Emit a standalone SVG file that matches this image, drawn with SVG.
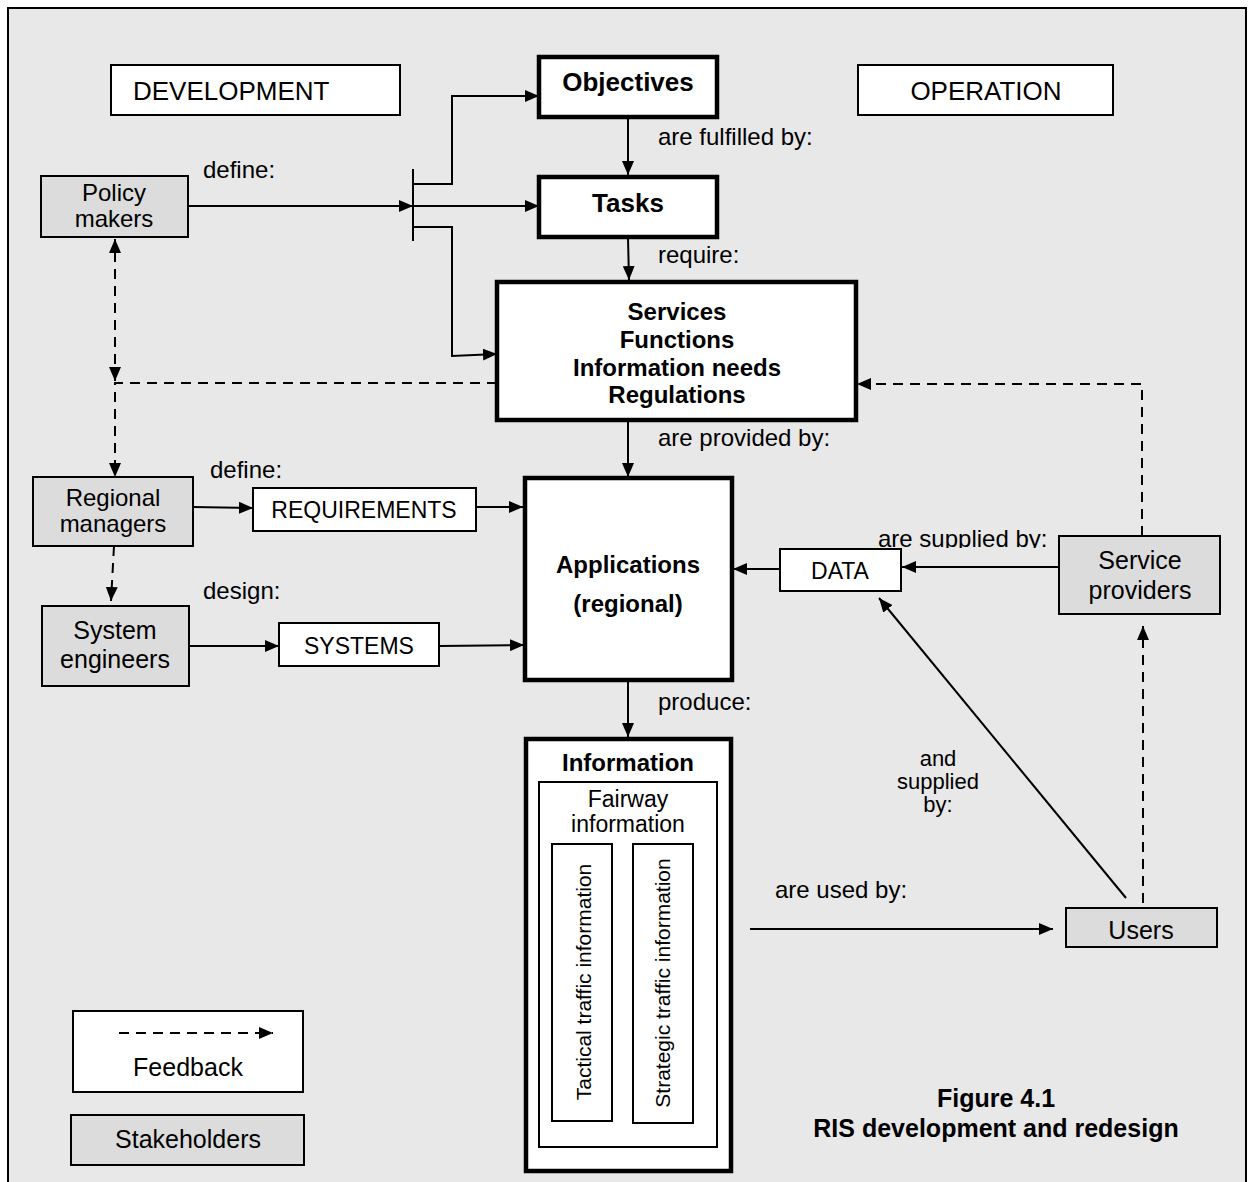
<svg xmlns="http://www.w3.org/2000/svg" width="1248" height="1182" viewBox="0 0 1248 1182">
<style>
text{font-family:"Liberation Sans",Arial,sans-serif;fill:#000}
.bg{fill:#e8e8e8;stroke:#000;stroke-width:2}
.st{fill:#dcdcdc;stroke:#000;stroke-width:2}
.wb{fill:#fff;stroke:#000;stroke-width:2}
.tk{fill:#fff;stroke:#000;stroke-width:4.5}
.ln{fill:none;stroke:#000;stroke-width:2}
.ds{fill:none;stroke:#000;stroke-width:2;stroke-dasharray:10,7}
.t25{font-size:25px}
.t23{font-size:23px}
.lb{font-size:24px}
.b26{font-size:26px;font-weight:bold}
.b24{font-size:24px;font-weight:bold}
.mid{text-anchor:middle}
</style>
<defs>
<marker id="ah" viewBox="0 0 14 12" refX="14" refY="6" markerWidth="14" markerHeight="12" orient="auto-start-reverse" markerUnits="userSpaceOnUse"><path d="M0,0 L14,6 L0,12 z" fill="#000"/></marker>
<clipPath id="clipSup"><rect x="860" y="520" width="200" height="28"/></clipPath>
</defs>
<rect x="8" y="8" width="1238" height="1190" class="bg"/>

<g id="connectors">
<path class="ln" d="M188,206 H413" marker-end="url(#ah)"/>
<path class="ln" d="M413,169 V241"/>
<path class="ln" d="M413,184 H452 V96 H539" marker-end="url(#ah)"/>
<path class="ln" d="M413,206 H539" marker-end="url(#ah)"/>
<path class="ln" d="M413,227 H452 V356 L497,354" marker-end="url(#ah)"/>
<path class="ln" d="M628,117 V175" marker-end="url(#ah)"/>
<path class="ln" d="M628,238 L629,280" marker-end="url(#ah)"/>
<path class="ln" d="M628,421 V477" marker-end="url(#ah)"/>
<path class="ln" d="M628,680 V737" marker-end="url(#ah)"/>
<path class="ds" d="M115,381 V239" marker-start="url(#ah)" marker-end="url(#ah)"/>
<path class="ds" d="M497,383 H115 V477" marker-end="url(#ah)"/>
<path class="ds" d="M114,546 L111,601" marker-end="url(#ah)"/>
<path class="ln" d="M193,507 L253,508" marker-end="url(#ah)"/>
<path class="ln" d="M476,507 H523" marker-end="url(#ah)"/>
<path class="ln" d="M189,646 H279" marker-end="url(#ah)"/>
<path class="ln" d="M439,646 L524,645" marker-end="url(#ah)"/>
<path class="ln" d="M780,569 H733" marker-end="url(#ah)"/>
<path class="ln" d="M1059,567 H902" marker-end="url(#ah)"/>
<path class="ds" d="M1142,536 V384 H857" marker-end="url(#ah)"/>
<path class="ds" d="M1143,903 V626" marker-end="url(#ah)"/>
<path class="ln" d="M1126,898 L879,598" marker-end="url(#ah)"/>
<path class="ln" d="M750,929 H1053" marker-end="url(#ah)"/>
</g>

<g id="labels">
<text class="lb" x="203" y="178">define:</text>
<text class="lb" x="658" y="145">are fulfilled by:</text>
<text class="lb" x="658" y="263">require:</text>
<text class="lb" x="658" y="446">are provided by:</text>
<text class="lb" x="210" y="478">define:</text>
<text class="lb" x="203" y="599">design:</text>
<text class="lb" x="658" y="710">produce:</text>
<text class="lb" x="878" y="547" clip-path="url(#clipSup)">are supplied by:</text>
<text class="mid" style="font-size:22px" x="938" y="766">and<tspan x="938" dy="23">supplied</tspan><tspan x="938" dy="23">by:</tspan></text>
<text class="lb" x="775" y="898">are used by:</text>
</g>

<g id="development">
<rect x="111" y="65" width="289" height="50" class="wb"/>
<text x="133" y="100" style="font-size:26px">DEVELOPMENT</text>
</g>
<g id="operation">
<rect x="858" y="65" width="255" height="50" class="wb"/>
<text class="mid" x="986" y="100" style="font-size:26px">OPERATION</text>
</g>
<g id="objectives">
<rect x="539" y="57" width="178" height="60" class="tk"/>
<text class="b26 mid" x="628" y="91">Objectives</text>
</g>
<g id="tasks">
<rect x="539" y="177" width="178" height="60" class="tk"/>
<text class="b26 mid" x="628" y="212">Tasks</text>
</g>
<g id="services">
<rect x="497" y="282" width="359" height="138" class="tk"/>
<text class="b24 mid" x="677" y="320">Services<tspan x="677" dy="28">Functions</tspan><tspan x="677" dy="28">Information needs</tspan><tspan x="677" dy="27">Regulations</tspan></text>
</g>
<g id="policy-makers">
<rect x="41" y="176" width="147" height="61" class="st"/>
<text class="mid" style="font-size:24px" x="114" y="201">Policy<tspan x="114" dy="26">makers</tspan></text>
</g>
<g id="regional-managers">
<rect x="33" y="477" width="160" height="69" class="st"/>
<text class="mid" style="font-size:24px" x="113" y="506">Regional<tspan x="113" dy="26">managers</tspan></text>
</g>
<g id="system-engineers">
<rect x="42" y="606" width="147" height="80" class="st"/>
<text class="t25 mid" x="115" y="639">System<tspan x="115" dy="29">engineers</tspan></text>
</g>
<g id="requirements">
<rect x="253" y="488" width="223" height="43" class="wb"/>
<text class="t23 mid" x="364" y="518">REQUIREMENTS</text>
</g>
<g id="systems">
<rect x="279" y="623" width="160" height="43" class="wb"/>
<text class="t23 mid" x="359" y="654">SYSTEMS</text>
</g>
<g id="applications">
<rect x="525" y="478" width="207" height="202" class="tk"/>
<text class="b24 mid" x="628" y="573">Applications<tspan x="628" dy="39">(regional)</tspan></text>
</g>
<g id="data">
<rect x="780" y="549" width="121" height="42" class="wb"/>
<text class="t23 mid" x="840" y="579">DATA</text>
</g>
<g id="service-providers">
<rect x="1059" y="536" width="161" height="78" class="st"/>
<text class="t25 mid" x="1140" y="569">Service<tspan x="1140" dy="30">providers</tspan></text>
</g>
<g id="users">
<rect x="1066" y="908" width="151" height="39" class="st"/>
<text class="t25 mid" x="1141" y="939">Users</text>
</g>
<g id="information">
<rect x="526" y="739" width="205" height="432" class="tk"/>
<text class="b24 mid" x="628" y="771">Information</text>
<rect x="539" y="782" width="178" height="365" class="wb"/>
<text class="t23 mid" x="628" y="807">Fairway<tspan x="628" dy="25">information</tspan></text>
<rect x="552" y="844" width="60" height="277" class="wb"/>
<text class="mid" style="font-size:21px" transform="translate(591,982) rotate(-90)">Tactical traffic information</text>
<rect x="633" y="844" width="60" height="279" class="wb"/>
<text class="mid" style="font-size:21px" transform="translate(670,983) rotate(-90)">Strategic traffic information</text>
</g>
<g id="legend-feedback">
<rect x="73" y="1011" width="230" height="81" class="wb"/>
<path class="ds" d="M119,1033 H273" marker-end="url(#ah)"/>
<text class="t25 mid" x="188" y="1076">Feedback</text>
</g>
<g id="legend-stakeholders">
<rect x="71" y="1115" width="233" height="50" class="st"/>
<text class="t25 mid" x="188" y="1148">Stakeholders</text>
</g>
<g id="caption">
<text class="b24 mid" x="996" y="1107" style="font-size:25px">Figure 4.1<tspan x="996" dy="30">RIS development and redesign</tspan></text>
</g>
</svg>
